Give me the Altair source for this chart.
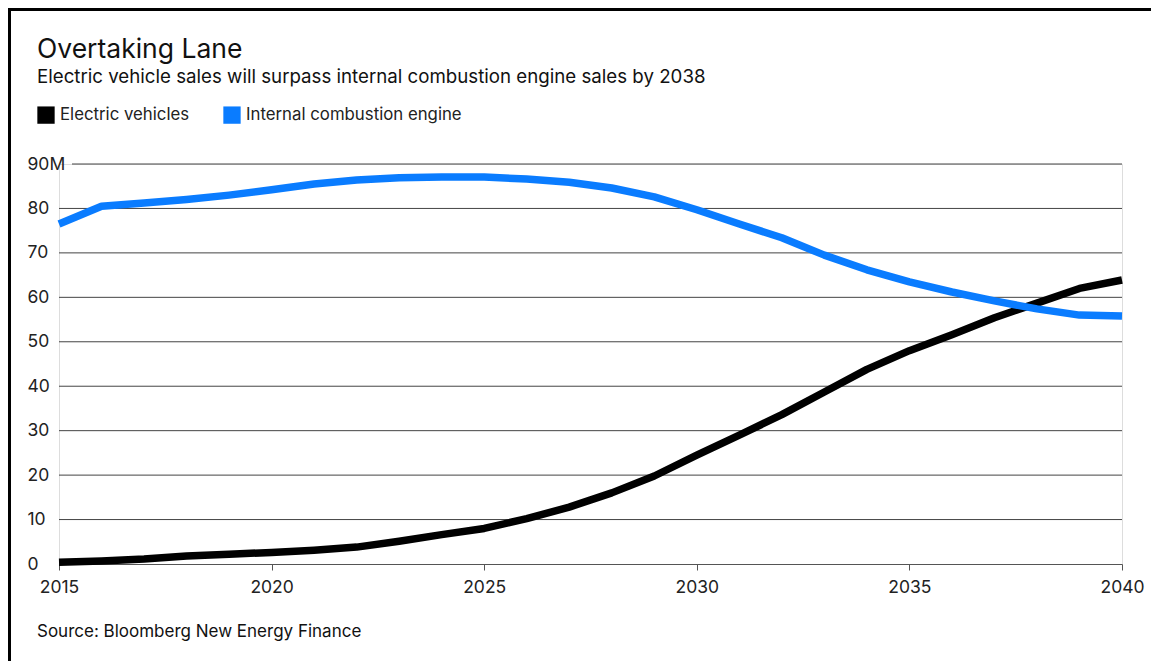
import altair as alt
import pandas as pd

years = list(range(2015, 2041))
ev = [0.4, 0.7, 1.1, 1.8, 2.2, 2.6, 3.1, 3.8, 5.1, 6.6, 8.0, 10.2, 12.8, 16.0, 19.8,
      24.5, 29.0, 33.6, 38.7, 43.8, 48.0, 51.6, 55.4, 58.7, 62.0, 63.9]
ice = [76.5, 80.5, 81.2, 82.0, 83.0, 84.2, 85.5, 86.4, 86.9, 87.1, 87.1, 86.6, 85.9,
       84.6, 82.6, 79.7, 76.5, 73.4, 69.5, 66.2, 63.5, 61.2, 59.2, 57.4, 56.0, 55.8]
series = ["Electric vehicles", "Internal combustion engine"]
colors = ["#000000", "#0a7cff"]
grid_values = [10, 20, 30, 40, 50, 60, 70, 80, 90]
x_ticks = [2015, 2020, 2025, 2030, 2035, 2040]

title = "Overtaking Lane"
subtitle = "Electric vehicle sales will surpass internal combustion engine sales by 2038"
source = "Source: Bloomberg New Energy Finance"

FONT = "Inter"
W, H = 1063, 400

df = pd.DataFrame(
    {"year": years * 2,
     "sales": ev + ice,
     "series": [series[0]] * len(years) + [series[1]] * len(years)}
)

xscale = alt.Scale(domain=[2015, 2040], nice=False, zero=False)
yscale = alt.Scale(domain=[0, 90], nice=False)

lines = alt.Chart(df).mark_line(strokeWidth=7.5, strokeCap="butt", strokeJoin="round").encode(
    x=alt.X("year:Q", scale=xscale,
            axis=alt.Axis(values=x_ticks, format="d", title=None, grid=False,
                          domainColor="#555", tickColor="#555", tickSize=6,
                          labelFontSize=17.5, labelFont=FONT, labelColor="#222",
                          labelPadding=8, labelFlush=False)),
    y=alt.Y("sales:Q", scale=yscale,
            axis=alt.Axis(values=[0] + grid_values, title=None, grid=False, domain=False,
                          ticks=False, tickSize=0, labelAlign="left", labelPadding=32,
                          labelBaseline="middle", labelFontSize=17.5, labelFont=FONT,
                          labelColor="#222",
                          labelExpr="datum.value == 90 ? '90M' : datum.label")),
    color=alt.Color("series:N", scale=alt.Scale(domain=series, range=colors), legend=None),
    detail="series:N",
)

legend_layer = alt.Chart(df).mark_square(size=0, filled=True, opacity=1).encode(
    x=alt.X("year:Q", scale=xscale),
    y=alt.Y("sales:Q", scale=yscale),
    color=alt.Color(
        "series:N",
        scale=alt.Scale(domain=series, range=colors),
        legend=alt.Legend(
            title=None, orient="none", legendX=-22, legendY=-58, direction="horizontal",
            symbolType="square", symbolSize=300, symbolStrokeWidth=0,
            labelFontSize=16.8, labelFont=FONT, labelColor="#222", labelOffset=5,
            labelLimit=400, columnPadding=33, padding=0, symbolOpacity=1,
        ),
    ),
)

grid_df = pd.DataFrame({"v": grid_values})
grid_low = alt.Chart(grid_df).transform_filter("datum.v < 90").mark_rule(
    color="#444", strokeWidth=1
).encode(y=alt.Y("v:Q", scale=yscale), x=alt.value(0), x2=alt.value(W))
grid_top = alt.Chart(grid_df).transform_filter("datum.v == 90").mark_rule(
    color="#444", strokeWidth=1
).encode(y=alt.Y("v:Q", scale=yscale), x=alt.value(13), x2=alt.value(W))


def text_layer(txt, x, y, size, color="#111"):
    return alt.Chart(pd.DataFrame({"t": [txt]})).mark_text(
        align="left", baseline="alphabetic", font=FONT, fontSize=size, color=color
    ).encode(text="t:N", x=alt.value(x), y=alt.value(y))


t_title = text_layer(title, -22, -106, 26.5)
t_sub = text_layer(subtitle, -22, -81, 18.7, "#111")
t_src = text_layer(source, -22, 473, 17, "#111")

frame_df = pd.DataFrame({"a": [0]})
frame_top = alt.Chart(frame_df).mark_rule(color="#000", strokeWidth=3).encode(
    x=alt.value(-51), x2=alt.value(1100), y=alt.value(-154.5)
)
frame_left = alt.Chart(frame_df).mark_rule(color="#000", strokeWidth=3).encode(
    x=alt.value(-49.5), y=alt.value(-156), y2=alt.value(520)
)

chart = alt.layer(
    grid_low, grid_top, lines, legend_layer, t_title, t_sub, t_src, frame_top, frame_left
).resolve_scale(color="independent").properties(
    width=W, height=H,
    autosize=alt.AutoSizeParams(type="none"),
    padding={"left": 51, "top": 156, "right": 29, "bottom": 97},
).configure_view(stroke=None).configure(background="white")

chart.save("out.html", embed_options={"renderer": "svg", "actions": False})
